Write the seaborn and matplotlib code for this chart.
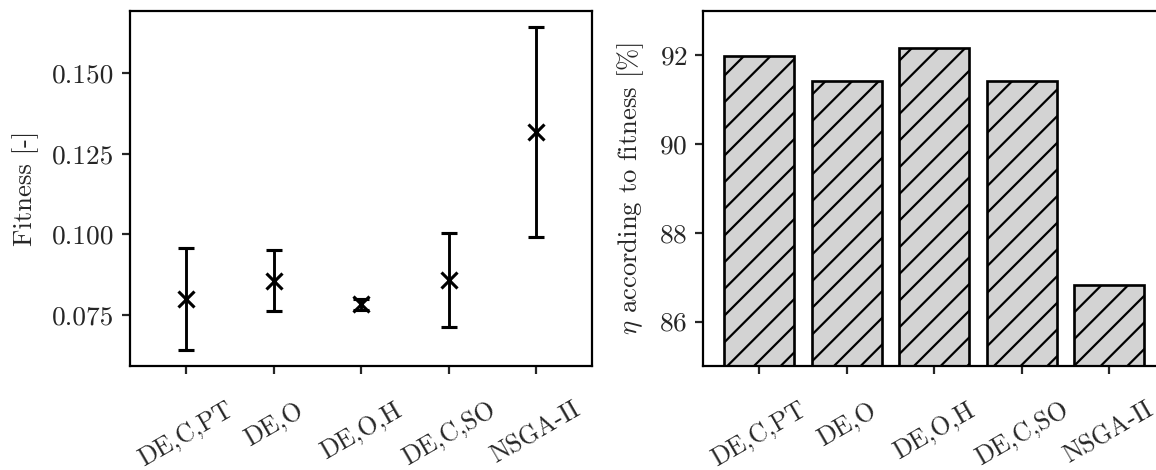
import matplotlib
matplotlib.use("Agg")
import matplotlib.pyplot as plt
import seaborn as sns
import pandas as pd
import numpy as np

# Data
methods = ["DE,C,PT", "DE,O", "DE,O,H", "DE,C,SO", "NSGA-II"]
fitness_mean = [0.0800, 0.0857, 0.0783, 0.0858, 0.1317]
fitness_std = [0.0158, 0.0095, 0.0016, 0.0145, 0.0325]
eta_percent = [91.98, 91.42, 92.16, 91.42, 86.83]

sns.set_style("ticks")
plt.rcParams["font.family"] = ["serif"]
plt.rcParams["font.serif"] = ["cmr10"]
plt.rcParams["mathtext.fontset"] = "cm"
plt.rcParams["axes.formatter.use_mathtext"] = True
plt.rcParams["font.size"] = 12
plt.rcParams["xtick.labelsize"] = 11.5
plt.rcParams["ytick.labelsize"] = 12.3
plt.rcParams["axes.linewidth"] = 1.0
plt.rcParams["xtick.major.width"] = 1.0
plt.rcParams["ytick.major.width"] = 1.0
plt.rcParams["xtick.major.size"] = 3.5
plt.rcParams["ytick.major.size"] = 3.5
plt.rcParams["hatch.linewidth"] = 1.0

W, H = 1156, 470
dpi = 160
fig = plt.figure(figsize=(W / dpi, H / dpi), dpi=dpi)
ax1 = fig.add_axes([130 / W, (H - 366) / H, 462 / W, 355 / H])
ax2 = fig.add_axes([703 / W, (H - 366) / H, 462 / W, 355 / H])

df = pd.DataFrame({"method": methods, "mean": fitness_mean, "std": fitness_std, "eta": eta_percent})

# Left: mean +- std
xpos = np.arange(len(methods))
ax1.errorbar(xpos, df["mean"], yerr=df["std"], fmt="x", color="black",
             ecolor="black", elinewidth=1.3, capsize=3.6, capthick=1.3,
             markersize=7, markeredgewidth=1.4)
ax1.set_xticks(xpos)
ax1.set_xticklabels(methods, rotation=30, ha="center")
ax1.set_xlim(-0.64, 4.64)
ax1.set_ylim(0.0592, 0.1693)
ax1.set_yticks([0.075, 0.100, 0.125, 0.150])
ax1.set_yticklabels(["0.075", "0.100", "0.125", "0.150"])
ax1.set_ylabel("Fitness [-]", labelpad=6)
ax1.set_xlabel("")

# Right: bars
sns.barplot(data=df, x="method", y="eta", ax=ax2, color="lightgray",
            edgecolor="black", linewidth=1.2, width=0.8, saturation=1)
for p in ax2.patches:
    p.set_hatch("//")
    p.set_facecolor("lightgray")
    p.set_edgecolor("black")
ax2.set_xlim(-0.64, 4.64)
ax2.set_ylim(85, 93)
ax2.set_yticks([86, 88, 90, 92])
ax2.set_xticks(xpos)
ax2.set_xticklabels(methods, rotation=30, ha="center")
ax2.set_ylabel(r"$\eta$ according to fitness [%]", labelpad=6)
ax2.set_xlabel("")

for ax in (ax1, ax2):
    ax.tick_params(axis="x", pad=11)
    for s in ax.spines.values():
        s.set_visible(True)
        s.set_color("black")

fig.savefig("out.png", dpi=dpi)
